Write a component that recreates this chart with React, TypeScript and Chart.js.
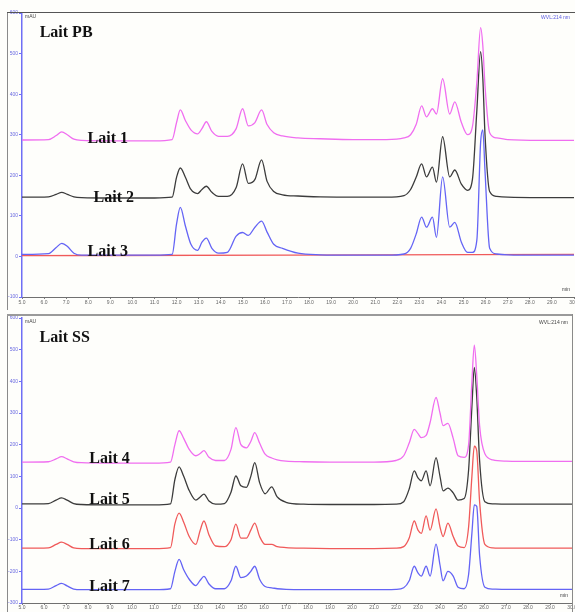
import React, { useEffect, useRef } from "react";
import { Chart, registerables } from "chart.js";
Chart.register(...registerables);

// ---------- Panel "Lait PB" (top) ----------
const topTimes = [5.0, 6.2, 6.55, 6.8, 7.05, 7.35, 7.7, 9.0, 11.0, 11.8, 12.0, 12.17, 12.4, 12.65, 12.95, 13.15, 13.35, 13.6, 13.9, 14.3, 14.7, 14.99, 15.25, 15.55, 15.85, 16.1, 16.4, 16.8, 17.5, 18.5, 20.0, 21.5, 22.3, 22.6, 22.85, 23.1, 23.32, 23.59, 23.77, 24.05, 24.37, 24.6, 24.9, 25.18, 25.4, 25.6, 25.77, 25.87, 25.97, 26.18, 26.5, 27.0, 28.5, 30.0];
const lait1 = [287, 288, 298, 307, 300, 289, 286, 285, 285, 288, 330, 361, 335, 312, 302, 315, 332, 308, 296, 296, 315, 364, 322, 330, 361, 325, 305, 297, 292, 290, 288, 288, 292, 300, 325, 371, 344, 364, 351, 438, 351, 381, 330, 300, 320, 430, 564, 520, 420, 305, 292, 288, 286, 286];
const lait2 = [146, 147, 153, 158, 153, 147, 145, 144, 144, 146, 195, 218, 195, 165, 155, 165, 173, 158, 148, 148, 170, 228, 180, 190, 238, 185, 160, 152, 149, 147, 146, 146, 150, 165, 195, 228, 196, 220, 183, 295, 196, 213, 178, 163, 190, 360, 505, 440, 300, 160, 148, 146, 145, 145];
const lait3 = [5, 7, 22, 32, 25, 8, 3, 3, 3, 5, 80, 121, 75, 30, 15, 35, 45, 20, 8, 10, 50, 59, 52, 72, 87, 60, 30, 20, 8, 4, 3, 3, 6, 20, 55, 97, 72, 97, 47, 196, 72, 84, 35, 10, 10, 40, 280, 312, 210, 20, 6, 4, 3, 3];
const blankTimes = [5.0, 17.0, 30.0];
const blankPB = [2, 3, 5];
const topYTicks = [-100, 0, 100, 200, 300, 400, 500, 600];

// ---------- Panel "Lait SS" (bottom) ----------
const bottomTimes = [5.0, 6.2, 6.55, 6.8, 7.05, 7.35, 7.7, 9.0, 11.0, 11.75, 11.95, 12.14, 12.35, 12.6, 12.9, 13.1, 13.27, 13.5, 13.8, 14.2, 14.5, 14.72, 14.95, 15.2, 15.4, 15.58, 15.8, 16.05, 16.35, 16.6, 17.0, 17.8, 19.0, 21.0, 22.0, 22.35, 22.6, 22.83, 23.0, 23.15, 23.37, 23.55, 23.82, 24.0, 24.14, 24.36, 24.6, 24.82, 25.1, 25.3, 25.45, 25.56, 25.67, 25.8, 26.04, 26.4, 27.0, 28.5, 30.0];
const lait4 = [145, 146, 155, 162, 155, 146, 143, 142, 142, 145, 200, 244, 220, 185, 165, 172, 181, 160, 150, 150, 185, 254, 200, 190, 210, 238, 205, 170, 158, 152, 148, 146, 145, 145, 150, 165, 205, 248, 235, 222, 229, 270, 349, 300, 260, 267, 220, 165, 160, 200, 400, 514, 420, 260, 171, 152, 148, 147, 147];
const lait5 = [13, 14, 25, 32, 25, 14, 11, 10, 10, 13, 90, 130, 100, 55, 25, 35, 44, 22, 12, 14, 50, 101, 70, 65, 100, 143, 80, 45, 67, 35, 18, 12, 11, 11, 12, 20, 60, 117, 95, 86, 117, 70, 159, 100, 54, 63, 48, 25, 30, 120, 320, 444, 350, 150, 20, 13, 12, 12, 12];
const lait6 = [-127, -126, -115, -108, -115, -126, -128, -128, -128, -125, -50, -16, -45, -90, -115, -70, -41, -85, -120, -122, -100, -51, -95, -95, -70, -48, -90, -115, -115, -122, -125, -127, -128, -128, -127, -122, -95, -41, -70, -80, -25, -70, -3, -60, -90, -48, -90, -120, -125, -60, 100, 195, 180, 20, -115, -126, -127, -127, -127];
const lait7 = [-257, -256, -245, -238, -246, -256, -258, -258, -258, -255, -200, -162, -195, -225, -245, -228, -216, -240, -255, -255, -230, -184, -220, -215, -200, -184, -225, -248, -252, -255, -257, -258, -258, -258, -257, -252, -230, -184, -205, -215, -184, -215, -114, -180, -230, -200, -215, -250, -255, -210, -80, 10, 5, -150, -250, -256, -257, -257, -257];
const bottomYTicks = [-300, -200, -100, 0, 100, 200, 300, 400, 500, 600];

const xMin = 5;
const xMax = 30;

const PINK = "#f06ef0";
const DARK = "#3c3c3c";
const BLUE = "#6464f5";
const RED = "#f05a5a";

function pts(times: number[], vals: number[]) {
  return times.map((t, i) => ({ x: t, y: vals[i] }));
}

type Label = { text: string; t: number; v: number; font: string; color: string; align?: CanvasTextAlign };
type Corner = { text: string; dx: number; dy: number; font: string; color: string; align: CanvasTextAlign; from: "left" | "right" };

function makePlugin(labels: Label[], corners: Corner[]) {
  return {
    id: "textLabels",
    afterDatasetsDraw(chart: any) {
      const { ctx, scales, chartArea } = chart;
      ctx.save();
      ctx.textBaseline = "alphabetic";
      labels.forEach((l) => {
        ctx.font = l.font;
        ctx.fillStyle = l.color;
        ctx.textAlign = l.align || "left";
        ctx.fillText(l.text, scales.x.getPixelForValue(l.t), scales.y.getPixelForValue(l.v));
      });
      corners.forEach((c) => {
        ctx.font = c.font;
        ctx.fillStyle = c.color;
        ctx.textAlign = c.align;
        const px = c.from === "left" ? chartArea.left + c.dx : chartArea.right + c.dx;
        const py = c.dy >= 0 ? chartArea.top + c.dy : chartArea.bottom + c.dy;
        ctx.fillText(c.text, px, py);
      });
      ctx.restore();
    },
  };
}

const LABEL_FONT = "bold 16px 'Liberation Serif', 'Times New Roman', serif";
const TINY_FONT = "5px 'Liberation Sans', Arial, sans-serif";

function makeConfig(datasets: any[], yMin: number, yMax: number, yTicks: number[], pad: any, xHeight: number, xPad: number, plugin: any) {
  return {
    type: "line",
    data: { datasets },
    options: {
      animation: false,
      responsive: false,
      maintainAspectRatio: false,
      layout: { padding: pad },
      plugins: { legend: { display: false }, tooltip: { enabled: false } },
      elements: { point: { radius: 0 }, line: { borderWidth: 1.3, cubicInterpolationMode: "monotone" } },
      scales: {
        x: {
          type: "linear",
          min: xMin,
          max: xMax,
          afterFit: (s: any) => { s.height = xHeight; s.paddingLeft = 0; s.paddingRight = 0; },
          border: { color: "#707070", width: 1 },
          grid: { drawOnChartArea: false, tickLength: 2, color: "#808080" },
          ticks: {
            stepSize: 1,
            autoSkip: false,
            maxRotation: 0,
            padding: xPad,
            color: "#666666",
            font: { size: 5, family: "'Liberation Sans', Arial, sans-serif" },
            callback: (v: number) => v.toFixed(1),
          },
        },
        y: {
          type: "linear",
          min: yMin,
          max: yMax,
          afterFit: (s: any) => { s.width = 21; s.paddingTop = 0; s.paddingBottom = 0; },
          afterBuildTicks: (s: any) => { s.ticks = yTicks.map((v) => ({ value: v })); },
          border: { color: "#6f6ff5", width: 1.5 },
          grid: { drawOnChartArea: false, tickLength: 3, color: "#6f6ff5" },
          ticks: {
            padding: 1,
            color: "#6a6ae0",
            font: { size: 5, family: "'Liberation Sans', Arial, sans-serif" },
          },
        },
      },
    },
    plugins: [plugin],
  };
}

function ChartCanvas({ config, width, height }: { config: () => any; width: number; height: number }) {
  const ref = useRef<HTMLCanvasElement>(null);
  useEffect(() => {
    if (!ref.current) return;
    const chart = new Chart(ref.current, config());
    return () => chart.destroy();
  }, []);
  return <canvas ref={ref} width={width} height={height} style={{ display: "block", width, height }} />;
}

export default function App() {
  const topConfig = () =>
    makeConfig(
      [
        { data: pts(topTimes, lait1), borderColor: PINK },
        { data: pts(topTimes, lait2), borderColor: DARK },
        { data: pts(topTimes, lait3), borderColor: BLUE },
        { data: pts(blankTimes, blankPB), borderColor: RED },
      ],
      -100,
      600,
      topYTicks,
      { top: 13, right: 1, bottom: 3, left: 1 },
      12,
      1,
      makePlugin(
        [
          { text: "Lait PB", t: 5.8, v: 540, font: LABEL_FONT, color: "#111" },
          { text: "Lait 1", t: 7.97, v: 280, font: LABEL_FONT, color: "#111" },
          { text: "Lait 2", t: 8.24, v: 134, font: LABEL_FONT, color: "#111" },
          { text: "Lait 3", t: 7.97, v: 0, font: LABEL_FONT, color: "#111" },
        ],
        [
          { text: "mAU", dx: 3, dy: 5, font: TINY_FONT, color: "#444", align: "left", from: "left" },
          { text: "WVL:214 nm", dx: -4, dy: 6, font: TINY_FONT, color: "#5a5ae0", align: "right", from: "right" },
          { text: "min", dx: -4, dy: -6, font: TINY_FONT, color: "#444", align: "right", from: "right" },
        ]
      )
    );
  const bottomConfig = () =>
    makeConfig(
      [
        { data: pts(bottomTimes, lait4), borderColor: PINK },
        { data: pts(bottomTimes, lait5), borderColor: DARK },
        { data: pts(bottomTimes, lait6), borderColor: RED },
        { data: pts(bottomTimes, lait7), borderColor: BLUE },
      ],
      -300,
      600,
      bottomYTicks,
      { top: 6, right: 3, bottom: 1, left: 1 },
      8,
      0,
      makePlugin(
        [
          { text: "Lait SS", t: 5.8, v: 524, font: LABEL_FONT, color: "#111" },
          { text: "Lait 4", t: 8.06, v: 143, font: LABEL_FONT, color: "#111" },
          { text: "Lait 5", t: 8.06, v: 13, font: LABEL_FONT, color: "#111" },
          { text: "Lait 6", t: 8.06, v: -130, font: LABEL_FONT, color: "#111" },
          { text: "Lait 7", t: 8.06, v: -263, font: LABEL_FONT, color: "#111" },
        ],
        [
          { text: "mAU", dx: 3, dy: 5, font: TINY_FONT, color: "#444", align: "left", from: "left" },
          { text: "WVL:214 nm", dx: -4, dy: 6, font: TINY_FONT, color: "#444", align: "right", from: "right" },
          { text: "min", dx: -4, dy: -6, font: TINY_FONT, color: "#444", align: "right", from: "right" },
        ]
      )
    );

  const line = (style: React.CSSProperties) => <div style={{ position: "absolute", background: "#8a8a8a", ...style }} />;

  return (
    <div style={{ position: "fixed", left: 0, top: 0, width: 575, height: 612, background: "#fefefb", overflow: "hidden" }}>
      <div style={{ position: "absolute", left: 0, top: 0 }}>
        <ChartCanvas config={topConfig} width={575} height={312} />
      </div>
      <div style={{ position: "absolute", left: 0, top: 312 }}>
        <ChartCanvas config={bottomConfig} width={575} height={300} />
      </div>
      {line({ left: 7, top: 12, width: 1, height: 298 })}
      {line({ left: 7, top: 12, width: 568, height: 1, background: "#555" })}
      {line({ left: 7, top: 315, width: 1, height: 297 })}
      {line({ left: 7, top: 314, width: 565, height: 2, background: "#9a9a9a" })}
      {line({ left: 572, top: 314, width: 1, height: 298 })}
    </div>
  );
}
